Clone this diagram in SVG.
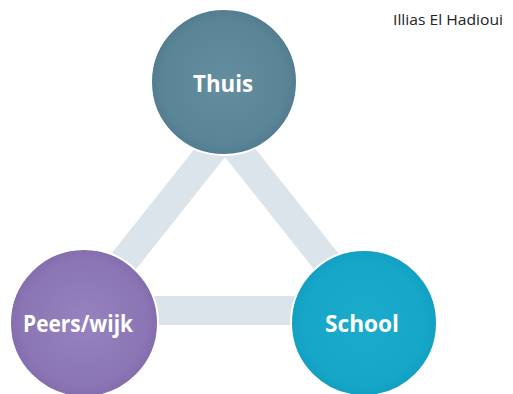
<svg xmlns="http://www.w3.org/2000/svg" width="513" height="394" viewBox="0 0 513 394">
  <defs>
    <radialGradient id="gThuis" cx="50%" cy="50%" r="50%">
      <stop offset="0" stop-color="#648ea0"/>
      <stop offset="0.85" stop-color="#5a8597"/>
      <stop offset="1" stop-color="#537d8f"/>
    </radialGradient>
    <radialGradient id="gPeers" cx="50%" cy="50%" r="50%">
      <stop offset="0" stop-color="#9683be"/>
      <stop offset="0.85" stop-color="#8b75b4"/>
      <stop offset="1" stop-color="#836dad"/>
    </radialGradient>
    <radialGradient id="gSchool" cx="50%" cy="50%" r="50%">
      <stop offset="0" stop-color="#1babcb"/>
      <stop offset="0.85" stop-color="#16a6c8"/>
      <stop offset="1" stop-color="#129fc2"/>
    </radialGradient>
  </defs>
  <style>
    .node circle { stroke: #ffffff; stroke-width: 2; }
    .label { font-family: "Open Sans", "Noto Sans", "Liberation Sans", sans-serif; font-weight: bold; font-size: 23px; fill: #ffffff; text-anchor: middle; }
    .author { font-family: "Open Sans", "Noto Sans", "Liberation Sans", sans-serif; font-size: 15px; fill: #222222; text-anchor: end; }
    .band { fill: none; stroke: #dae4ea; stroke-width: 29; stroke-linejoin: miter; }
  </style>
  <rect width="513" height="394" fill="#ffffff"/>
  <g id="connectors">
    <polygon class="band" points="225,133.7 84.8,310.5 365.2,310.5"/>
  </g>
  <g id="thuis" class="node">
    <circle cx="224" cy="82" r="73" fill="url(#gThuis)"/>
    <text class="label" x="223" y="92" textLength="60" lengthAdjust="spacingAndGlyphs">Thuis</text>
  </g>
  <g id="peers" class="node">
    <circle cx="84" cy="323" r="74" fill="url(#gPeers)"/>
    <text class="label" x="78" y="332" textLength="110" lengthAdjust="spacingAndGlyphs">Peers/wijk</text>
  </g>
  <g id="school" class="node">
    <circle cx="364" cy="323" r="73" fill="url(#gSchool)"/>
    <text class="label" x="362" y="332" textLength="74" lengthAdjust="spacingAndGlyphs">School</text>
  </g>
  <text class="author" x="503" y="25" textLength="110" lengthAdjust="spacingAndGlyphs">Illias El Hadioui</text>
</svg>
